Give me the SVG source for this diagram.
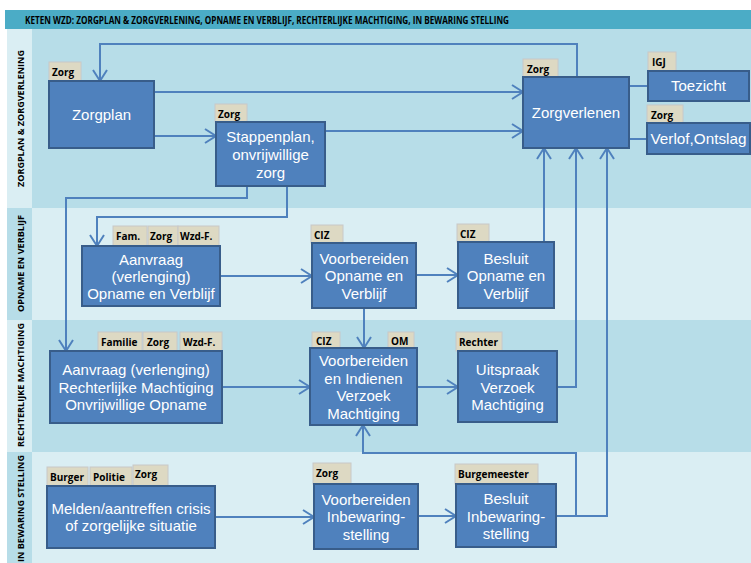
<svg xmlns="http://www.w3.org/2000/svg" width="751" height="563" viewBox="0 0 751 563">
<style>
.dark{fill:#B7DDE8}
.light{fill:#DAEEF3}
.node{fill:#4F81BD;stroke:#385D8A;stroke-width:2}
.tag{fill:#DDD9C3;stroke:#C8C8C8;stroke-width:1}
.tt{font-family:"Open Sans","Liberation Sans",sans-serif;font-weight:bold;font-size:10px;fill:#000}
.nt{font-family:"Liberation Sans",Arial,sans-serif;font-size:15px;fill:#FFFFFF;text-anchor:middle}
.lane{font-family:"Open Sans","Liberation Sans",sans-serif;font-weight:bold;font-size:8.5px;fill:#000;text-anchor:middle}
.title{font-family:"Open Sans","Liberation Sans",sans-serif;font-weight:bold;font-size:10.5px;fill:#000}
.c{fill:none;stroke:#4F81BD;stroke-width:2}
.ca{fill:none;stroke:#4F81BD;stroke-width:2;marker-end:url(#arr)}
</style>
<defs>
<marker id="arr" markerUnits="userSpaceOnUse" markerWidth="16" markerHeight="18" refX="12" refY="8" orient="auto">
<path d="M1,1 L12,8 L1,15" fill="none" stroke="#4F81BD" stroke-width="2"/>
</marker>
</defs>
<rect width="751" height="563" fill="#FFFFFF"/>
<g id="background">
<rect x="5" y="10" width="746" height="19" fill="#4BACC6"/>
<text class="title" x="25" y="23.5" textLength="484" lengthAdjust="spacingAndGlyphs">KETEN WZD:  ZORGPLAN &amp; ZORGVERLENING, OPNAME EN VERBLIJF, RECHTERLIJKE MACHTIGING, IN BEWARING STELLING</text>
<rect class="light" x="7" y="29" width="25" height="179"/>
<rect class="dark" x="32" y="29" width="719" height="179"/>
<rect class="dark" x="7" y="208" width="25" height="112"/>
<rect class="light" x="32" y="208" width="719" height="112"/>
<rect class="light" x="7" y="320" width="25" height="132"/>
<rect class="dark" x="32" y="320" width="719" height="132"/>
<rect class="dark" x="7" y="452" width="25" height="111"/>
<rect class="light" x="32" y="452" width="719" height="111"/>
<text class="lane" transform="translate(23.5,118.5) rotate(-90)" textLength="137" lengthAdjust="spacingAndGlyphs">ZORGPLAN &amp; ZORGVERLENING</text>
<text class="lane" transform="translate(23.5,263.5) rotate(-90)" textLength="97" lengthAdjust="spacingAndGlyphs">OPNAME EN VERBLIJF</text>
<text class="lane" transform="translate(23.5,385) rotate(-90)" textLength="124" lengthAdjust="spacingAndGlyphs">RECHTERLIJKE MACHTIGING</text>
<text class="lane" transform="translate(23.5,508.5) rotate(-90)" textLength="107" lengthAdjust="spacingAndGlyphs">IN BEWARING STELLING</text>
</g>
<g id="connectors">
<polyline class="ca" points="577,77 577,44 100,44 100,81"/>
<polyline class="ca" points="154,92 523,92"/>
<polyline class="ca" points="154,136 216,136"/>
<polyline class="ca" points="325,131 523,131"/>
<polyline class="ca" points="247,186 247,198 66,198 66,351"/>
<polyline class="ca" points="287,186 287,217 97,217 97,246"/>
<polyline class="c" points="629,86 648,86"/>
<polyline class="c" points="629,139 647,139"/>
<polyline class="ca" points="220,276 312,276"/>
<polyline class="ca" points="416,275 458,275"/>
<polyline class="ca" points="364,308 364,348"/>
<polyline class="ca" points="544,242 544,148"/>
<polyline class="ca" points="222,387 310,387"/>
<polyline class="ca" points="417,387 458,387"/>
<polyline class="ca" points="557,387 576,387 576,148"/>
<polyline class="ca" points="556,516 607,516 607,148"/>
<polyline class="ca" points="576,516 576,453 363,453 363,425"/>
<polyline class="ca" points="215,517 314,517"/>
<polyline class="ca" points="418,516 456,516"/>
</g>
<g id="zorgplan">
<rect class="tag" x="49" y="62" width="32" height="19"/><text class="tt" x="52" y="76">Zorg</text>
<rect class="node" x="49" y="81" width="105" height="67"/>
<text class="nt" x="101.5" y="120">Zorgplan</text>
</g>
<g id="stappenplan">
<rect class="tag" x="215" y="104" width="32" height="18"/><text class="tt" x="218" y="117.5">Zorg</text>
<rect class="node" x="216" y="122" width="109" height="64"/>
<text class="nt" x="270.5" y="142">Stappenplan,</text>
<text class="nt" x="270.5" y="160">onvrijwillige</text>
<text class="nt" x="270.5" y="178">zorg</text>
</g>
<g id="zorgverlenen">
<rect class="tag" x="523" y="59" width="35" height="18"/><text class="tt" x="527" y="73">Zorg</text>
<rect class="node" x="523" y="77" width="106" height="71"/>
<text class="nt" x="576" y="118">Zorgverlenen</text>
</g>
<g id="toezicht">
<rect class="tag" x="648" y="52" width="28" height="19"/><text class="tt" x="652" y="66">IGJ</text>
<rect class="node" x="648" y="71" width="101" height="30"/>
<text class="nt" x="698.5" y="91">Toezicht</text>
</g>
<g id="verlof">
<rect class="tag" x="647" y="105" width="36" height="18"/><text class="tt" x="651" y="119">Zorg</text>
<rect class="node" x="647" y="123" width="103" height="31"/>
<text class="nt" x="698.5" y="144" textLength="96" lengthAdjust="spacingAndGlyphs">Verlof,Ontslag</text>
</g>
<g id="aanvraag-ov">
<rect class="tag" x="113" y="226" width="34" height="20"/><text class="tt" x="116" y="240">Fam.</text>
<rect class="tag" x="148" y="226" width="30" height="20"/><text class="tt" x="150" y="240">Zorg</text>
<rect class="tag" x="178" y="226" width="41" height="20"/><text class="tt" x="180" y="240">Wzd-F.</text>
<rect class="node" x="82" y="246" width="138" height="60"/>
<text class="nt" x="151" y="265">Aanvraag</text>
<text class="nt" x="151" y="282">(verlenging)</text>
<text class="nt" x="151" y="299">Opname en Verblijf</text>
</g>
<g id="voorbereiden-ov">
<rect class="tag" x="311" y="225" width="32" height="18"/><text class="tt" x="314" y="239">CIZ</text>
<rect class="node" x="312" y="243" width="104" height="65"/>
<text class="nt" x="364" y="263.5">Voorbereiden</text>
<text class="nt" x="364" y="281">Opname en</text>
<text class="nt" x="364" y="298.5">Verblijf</text>
</g>
<g id="besluit-ov">
<rect class="tag" x="457" y="224" width="32" height="18"/><text class="tt" x="460" y="238">CIZ</text>
<rect class="node" x="458" y="242" width="96" height="66"/>
<text class="nt" x="506" y="263.5">Besluit</text>
<text class="nt" x="506" y="281">Opname en</text>
<text class="nt" x="506" y="298.5">Verblijf</text>
</g>
<g id="aanvraag-rm">
<rect class="tag" x="98" y="332" width="44" height="19"/><text class="tt" x="101" y="346">Familie</text>
<rect class="tag" x="143" y="332" width="34" height="19"/><text class="tt" x="147" y="346">Zorg</text>
<rect class="tag" x="180" y="332" width="42" height="19"/><text class="tt" x="183" y="346">Wzd-F.</text>
<rect class="node" x="50" y="351" width="172" height="72"/>
<text class="nt" x="136" y="375">Aanvraag (verlenging)</text>
<text class="nt" x="136" y="393">Rechterlijke Machtiging</text>
<text class="nt" x="136" y="410">Onvrijwillige Opname</text>
</g>
<g id="voorbereiden-indienen">
<rect class="tag" x="312" y="332" width="28" height="16"/><text class="tt" x="316" y="345">CIZ</text>
<rect class="tag" x="388" y="332" width="26" height="16"/><text class="tt" x="391" y="345">OM</text>
<rect class="node" x="310" y="348" width="107" height="77"/>
<text class="nt" x="363.5" y="366">Voorbereiden</text>
<text class="nt" x="363.5" y="383.5">en Indienen</text>
<text class="nt" x="363.5" y="401">Verzoek</text>
<text class="nt" x="363.5" y="418.5">Machtiging</text>
</g>
<g id="uitspraak">
<rect class="tag" x="456" y="332" width="46" height="19"/><text class="tt" x="459" y="346">Rechter</text>
<rect class="node" x="458" y="351" width="99" height="71"/>
<text class="nt" x="507.5" y="375">Uitspraak</text>
<text class="nt" x="507.5" y="392.5">Verzoek</text>
<text class="nt" x="507.5" y="410">Machtiging</text>
</g>
<g id="melden">
<rect class="tag" x="47" y="467" width="41" height="19"/><text class="tt" x="50" y="481">Burger</text>
<rect class="tag" x="90" y="467" width="42" height="19"/><text class="tt" x="93" y="481">Politie</text>
<rect class="tag" x="133" y="465" width="35" height="21"/><text class="tt" x="135" y="478">Zorg</text>
<rect class="node" x="47" y="486" width="168" height="62"/>
<text class="nt" x="131" y="514">Melden/aantreffen crisis</text>
<text class="nt" x="131" y="531">of zorgelijke situatie</text>
</g>
<g id="voorbereiden-ib">
<rect class="tag" x="313" y="463" width="38" height="21"/><text class="tt" x="316" y="477">Zorg</text>
<rect class="node" x="314" y="484" width="104" height="65"/>
<text class="nt" x="366" y="505">Voorbereiden</text>
<text class="nt" x="366" y="522">Inbewaring-</text>
<text class="nt" x="366" y="540">stelling</text>
</g>
<g id="besluit-ib">
<rect class="tag" x="455" y="464" width="83" height="20"/><text class="tt" x="458" y="478">Burgemeester</text>
<rect class="node" x="456" y="484" width="100" height="63"/>
<text class="nt" x="506" y="504">Besluit</text>
<text class="nt" x="506" y="522">Inbewaring-</text>
<text class="nt" x="506" y="539">stelling</text>
</g>
</svg>
